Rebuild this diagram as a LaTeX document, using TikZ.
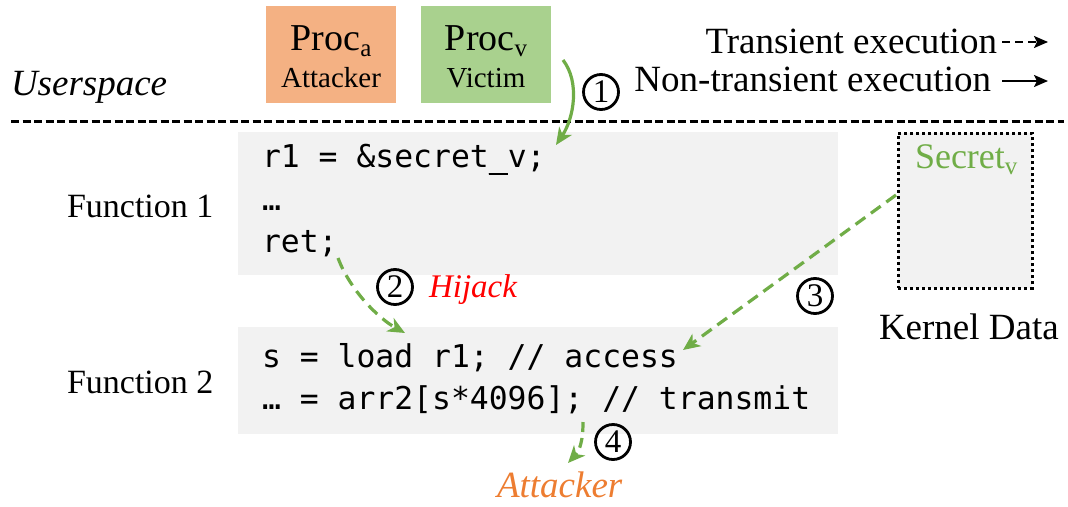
\documentclass[tikz,border=0pt]{standalone}
\usepackage{fontspec}
\setmainfont{Liberation Serif}[ItalicFont={Liberation Serif Italic},BoldFont={Liberation Serif Bold}]
\setmonofont{DejaVu Sans Mono}
\usetikzlibrary{arrows.meta}
\definecolor{procorange}{HTML}{F4B183}
\definecolor{procgreen}{HTML}{A9D18E}
\definecolor{codegray}{HTML}{F2F2F2}
\definecolor{arrgreen}{HTML}{70AD47}
\definecolor{txtorange}{HTML}{ED7D31}
\definecolor{txtred}{HTML}{FF0000}
\newcommand{\myfs}[1]{\fontsize{#1}{#1}\selectfont}
\newcommand{\mysub}[2]{{\myfs{#1}\raisebox{-6pt}{#2}}}
\newcommand{\us}{\rlap{\rule[-8.4pt]{18.9pt}{2.8pt}}\char"5F\relax}
\tikzset{
  procbox/.style={draw=none, minimum width=130pt, minimum height=97pt},
  codebox/.style={fill=codegray, draw=none},
  codetxt/.style={anchor=base west, font=\ttfamily\myfs{31.4}},
  serif/.style={anchor=base west, font=\myfs{#1}},
  circnum/.style={circle, draw=black, line width=2.8pt, minimum size=35pt, font=\myfs{33}},
  solidgreen/.style={draw=arrgreen, line width=3.2pt, -{Stealth[length=17pt,width=15pt,inset=5pt]}},
  dashgreen/.style={draw=arrgreen, line width=3.2pt, dash pattern=on 12pt off 7pt, -{Stealth[length=17pt,width=15pt,inset=5pt]}},
  legarrow/.style={draw=black, line width=2.2pt, -{Stealth[length=14pt,width=12pt,inset=3pt]}}
}
\begin{document}
\begin{tikzpicture}[x=1pt,y=-1pt, every node/.style={inner sep=0pt, outer sep=0pt}]
\useasboundingbox (0,0) rectangle (1068,506);

% process boxes
\node[procbox, fill=procorange] (procA) at (331,54.5) {};
\node[procbox, fill=procgreen] (procV) at (486,54.5) {};
\node[anchor=base, font=\myfs{38}] (procAt) at (331,50) {Proc\mysub{25}{a}};
\node[anchor=base, font=\myfs{29}] (procAs) at (331,87) {Attacker};
\node[anchor=base, font=\myfs{38}] (procVt) at (486,50) {Proc\mysub{25}{v}};
\node[anchor=base, font=\myfs{29}] (procVs) at (486,87) {Victim};

% legend
\node[anchor=base east, font=\myfs{37}] (leg1) at (997,53) {Transient execution};
\node[anchor=base east, font=\myfs{37}] (leg2) at (991,91) {Non-transient execution};
\coordinate (lg1s) at (1002,42);
\coordinate (lg1e) at (1048,42);
\coordinate (lg2s) at (1002,81);
\coordinate (lg2e) at (1048,81);
\draw[legarrow, dash pattern=on 8pt off 5pt] (lg1s) -- (lg1e);
\draw[legarrow] (lg2s) -- (lg2e);

% userspace
\node[anchor=base west, font=\itshape\myfs{37}] (user) at (11,95) {Userspace};
\draw[line width=3pt, dash pattern=on 8pt off 3.5pt] (11,121) -- (1064,121);

% code boxes
\node[codebox, minimum width=600pt, minimum height=143pt] (f1) at (538,203.5) {};
\node[codebox, minimum width=600pt, minimum height=107pt] (f2) at (538,380.5) {};
\node[serif=34] (f1l) at (67,217) {Function 1};
\node[serif=34] (f2l) at (67,393) {Function 2};
\node[codetxt] (c11) at (262,167) {r1 = \&secret\us v;};
\node[codetxt] (c12) at (262,210) {…};
\node[codetxt] (c13) at (262,252) {ret;};
\node[codetxt] (c21) at (262,367) {s = load r1; // access};
\node[codetxt] (c22) at (262,409) {… = arr2[s*4096]; // transmit};

% kernel
\node[fill=codegray, draw=black, line width=3pt, dash pattern=on 3pt off 3pt, minimum width=134pt, minimum height=155pt] (kern) at (965,210.5) {};
\node[anchor=base west, font=\myfs{36}, text=arrgreen] (sec) at (915,168) {Secret\mysub{25}{v}};
\node[serif=37] (kl) at (879,339) {Kernel Data};

% labels
\node[circnum] (n1) at (601,92) {1};
\node[circnum] (n2) at (395,287) {2};
\node[circnum] (n3) at (815,296) {3};
\node[circnum] (n4) at (613,442) {4};
\node[anchor=base west, font=\itshape\myfs{33}, text=txtred] (hij) at (429,297) {Hijack};
\node[anchor=base west, font=\itshape\myfs{37}, text=txtorange] (att) at (497,497) {Attacker};

% arrows
\coordinate (a1s) at (563,60);
\coordinate (a1e) at (556,145);
\draw[solidgreen] (a1s) .. controls (580,82) and (574,118) .. (a1e);
\coordinate (a2s) at (338,258);
\coordinate (a2e) at (405,333);
\draw[dashgreen] (a2s) .. controls (350,290) and (378,318) .. (a2e);
\coordinate (a3s) at (896,195);
\coordinate (a3e) at (683,350);
\draw[dashgreen] (a3s) -- (a3e);
\coordinate (a4s) at (583,422);
\coordinate (a4e) at (568,463);
\draw[dashgreen, dash pattern=on 10pt off 6pt] (a4s) .. controls (583,440) and (580,450) .. (a4e);
\end{tikzpicture}
\end{document}
